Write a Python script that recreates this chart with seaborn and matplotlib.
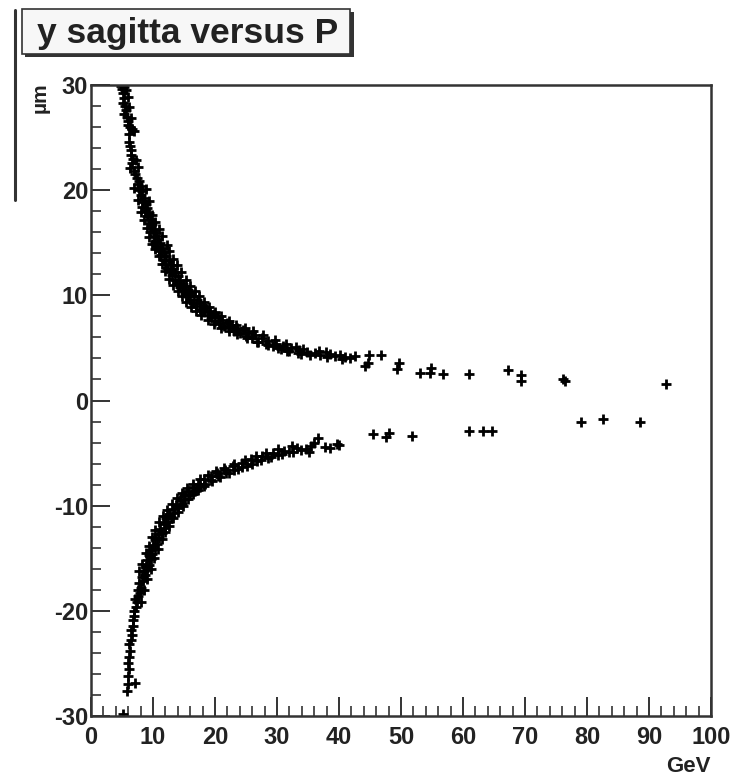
import matplotlib
matplotlib.use("Agg")
import matplotlib.pyplot as plt
from matplotlib.patches import Rectangle
from matplotlib.ticker import MultipleLocator
import seaborn as sns
import pandas as pd

# Positive-charge branch: momentum P [GeV] and y sagitta [um]
pos_p = [4.8, 5.0, 5.3, 5.6, 5.1, 5.4, 5.2, 5.5, 5.7, 5.4, 5.8, 6.0, 5.9, 6.3, 6.6, 7.0, 6.2,
         6.1, 6.3, 6.5, 6.4, 6.8, 6.6, 6.3, 6.9, 7.1, 7.4, 7.8, 7.5, 8.0, 7.7, 8.3, 8.1, 8.6,
         8.4, 8.9, 8.2, 9.1, 8.7, 9.3, 9.0, 9.6, 9.4, 9.9, 9.7, 10.2, 9.5, 10.5, 10.1, 10.8,
         10.4, 11.1, 10.7, 11.4, 11.0, 11.8, 11.3, 12.1, 11.7, 12.5, 12.0, 12.9, 12.3, 13.2,
         12.7, 13.6, 13.0, 14.0, 13.5, 14.4, 13.9, 14.8, 14.3, 15.2, 14.8, 15.7, 15.1, 16.1,
         15.6, 16.6, 16.0, 17.1, 16.5, 17.6, 17.0, 18.1, 17.6, 18.6, 18.2, 19.2, 18.8, 19.8,
         19.3, 20.5, 20.0, 21.2, 20.7, 22.0, 21.5, 22.8, 22.3, 23.6, 23.0, 24.5, 24.0, 25.4,
         25.0, 26.4, 26.0, 27.5, 27.0, 28.6, 28.2, 29.8, 29.4, 31.0, 30.6, 32.2, 32.0, 33.5,
         33.4, 34.8, 35.3, 36.2, 37.0, 38.5, 39.3, 40.1, 41.0, 41.8, 42.5, 44.2, 44.6, 44.8,
         46.8, 49.4, 49.7, 53.0, 54.6, 54.8, 56.8, 61.0, 67.3, 69.3, 69.3, 76.1, 76.5, 92.7,
         5.9, 6.2, 6.5, 7.3, 7.6, 7.0, 8.8, 7.6, 9.4, 8.0, 9.8, 8.5, 10.4, 9.0, 10.9, 9.4,
         11.5, 9.9, 12.2, 10.3, 12.6, 10.9, 13.2, 11.5, 13.8, 11.9, 14.5, 12.6, 15.3, 13.3,
         15.9, 14.0, 16.7, 14.6, 17.4, 15.3, 18.2, 16.1, 19.0, 16.9, 20.0, 17.8, 21.0, 18.8,
         22.2, 19.9, 23.4, 21.0, 24.8, 22.2, 26.2, 23.6, 27.8, 25.2, 29.6, 26.8, 31.4, 28.5,
         33.0, 30.2, 34.2, 31.6, 36.8, 33.8, 38.1, 37.9, 40.5]
pos_y = [29.9, 29.6, 29.8, 29.5, 29.2, 28.8, 28.3, 28.0, 27.6, 27.2, 27.0, 26.6, 26.2, 26.0,
         25.8, 25.6, 25.3, 24.6, 24.2, 23.8, 23.3, 23.0, 22.6, 22.1, 21.8, 21.5, 21.2, 20.9,
         20.6, 20.4, 20.0, 19.9, 19.5, 19.3, 18.9, 18.7, 18.4, 18.3, 18.0, 17.8, 17.5, 17.3,
         16.9, 16.8, 16.4, 16.2, 16.0, 15.9, 15.6, 15.4, 15.1, 15.0, 14.7, 14.5, 14.2, 14.1,
         13.8, 13.7, 13.4, 13.3, 13.0, 12.9, 12.6, 12.5, 12.2, 12.2, 11.9, 11.8, 11.5, 11.4,
         11.1, 11.1, 10.8, 10.8, 10.5, 10.5, 10.2, 10.2, 9.9, 9.9, 9.6, 9.6, 9.3, 9.3, 9.0,
         9.0, 8.7, 8.8, 8.4, 8.5, 8.1, 8.2, 7.9, 7.9, 7.6, 7.7, 7.4, 7.4, 7.1, 7.2, 6.9, 6.9,
         6.6, 6.7, 6.4, 6.4, 6.1, 6.2, 5.9, 5.9, 5.6, 5.7, 5.4, 5.4, 5.2, 5.2, 4.9, 5.0, 4.7,
         4.8, 4.5, 4.6, 4.3, 4.5, 4.3, 4.4, 4.2, 4.3, 4.1, 4.0, 4.2, 3.3, 3.6, 4.3, 4.3, 3.0,
         3.6, 2.6, 2.6, 3.1, 2.5, 2.5, 2.9, 2.4, 1.9, 2.0, 1.9, 1.6,
         28.9, 27.9, 26.9, 22.9, 22.2, 20.2, 20.1, 19.1, 19.0, 17.9, 17.6, 17.2, 17.0, 16.4,
         16.3, 15.5, 15.6, 14.9, 14.8, 14.4, 14.2, 13.7, 13.5, 13.0, 12.9, 12.3, 12.2, 11.6,
         11.5, 11.0, 10.9, 10.4, 10.4, 9.9, 9.9, 9.4, 9.4, 8.9, 8.9, 8.5, 8.4, 8.1, 8.0, 7.7,
         7.6, 7.3, 7.2, 6.9, 6.9, 6.6, 6.6, 6.3, 6.2, 5.9, 5.8, 5.6, 5.4, 5.3, 5.1, 5.0, 4.9,
         4.7, 4.7, 4.4, 4.1, 4.6, 3.9]

# Negative-charge branch
neg_p = [5.2, 5.8, 7.1, 5.9, 6.0, 6.1, 6.0, 6.2, 6.3, 6.1, 6.4, 6.6, 6.5, 6.8, 6.7, 7.0, 6.9,
         7.2, 7.4, 7.1, 7.6, 7.9, 7.5, 8.1, 7.8, 8.4, 8.2, 8.7, 8.5, 9.0, 8.8, 9.3, 9.1, 9.6,
         9.4, 9.9, 9.7, 10.3, 10.0, 10.6, 10.4, 11.0, 10.8, 11.4, 11.2, 11.9, 11.7, 12.4, 12.1,
         12.9, 12.6, 13.4, 13.2, 14.0, 13.7, 14.6, 14.3, 15.2, 15.0, 15.9, 15.7, 16.7, 16.4,
         17.5, 17.3, 18.4, 18.3, 19.4, 19.3, 20.5, 20.4, 21.8, 21.6, 23.0, 22.9, 24.4, 24.3,
         25.9, 25.8, 27.4, 27.5, 29.0, 29.3, 30.8, 31.2, 32.6, 33.3, 34.6, 35.5, 36.0, 36.6,
         37.8, 38.5, 39.7, 40.0, 45.5, 47.6, 48.0, 51.7, 61.0, 63.2, 64.7, 79.0, 82.6, 88.5,
         8.0, 8.6, 9.0, 7.7, 9.6, 8.2, 10.2, 8.8, 10.8, 9.3, 11.4, 9.9, 12.0, 10.4, 12.6, 11.0,
         13.3, 11.6, 14.0, 12.3, 14.8, 13.0, 15.6, 13.8, 16.4, 14.6, 17.3, 15.5, 18.3, 16.5,
         19.5, 17.6, 20.8, 18.8, 22.2, 20.1, 23.7, 21.5, 25.2, 23.0, 26.8, 24.8, 28.5, 26.6,
         30.2, 28.3, 32.0, 30.1, 33.8, 32.4, 35.1]
neg_y = [-29.8, -27.6, -26.9, -27.0, -26.2, -25.5, -25.0, -24.4, -23.8, -23.2, -22.8, -22.3,
         -21.8, -21.4, -20.9, -20.5, -20.0, -19.6, -19.2, -18.9, -18.6, -18.3, -18.0, -17.8,
         -17.4, -17.2, -16.8, -16.6, -16.2, -16.1, -15.7, -15.6, -15.2, -15.1, -14.7, -14.6,
         -14.2, -14.1, -13.7, -13.6, -13.2, -13.1, -12.7, -12.6, -12.2, -12.1, -11.7, -11.6,
         -11.2, -11.1, -10.8, -10.7, -10.3, -10.2, -9.9, -9.8, -9.5, -9.4, -9.0, -9.0, -8.6,
         -8.6, -8.2, -8.2, -7.9, -7.9, -7.5, -7.6, -7.2, -7.2, -6.9, -6.9, -6.6, -6.6, -6.2,
         -6.3, -5.9, -6.0, -5.6, -5.7, -5.3, -5.4, -5.0, -5.1, -4.8, -4.9, -4.5, -4.6, -4.3,
         -4.0, -3.6, -4.4, -4.5, -4.1, -4.2, -3.2, -3.5, -3.1, -3.4, -2.9, -2.9, -2.9, -2.0,
         -1.8, -2.0,
         -19.2, -18.0, -17.0, -16.2, -16.0, -15.5, -15.0, -14.5, -14.1, -13.8, -13.2, -13.0,
         -12.5, -12.3, -11.9, -11.6, -11.2, -11.0, -10.6, -10.4, -10.0, -9.8, -9.4, -9.3,
         -8.9, -8.8, -8.5, -8.3, -8.1, -7.9, -7.7, -7.5, -7.3, -7.1, -6.9, -6.7, -6.5, -6.4,
         -6.2, -6.0, -5.8, -5.7, -5.5, -5.3, -5.2, -5.0, -4.9, -4.6, -4.7, -4.3, -4.9]

x_ticks = [0, 10, 20, 30, 40, 50, 60, 70, 80, 90, 100]
y_ticks = [-30, -20, -10, 0, 10, 20, 30]

df = pd.DataFrame({
    "P": pos_p + neg_p,
    "sagitta": pos_y + neg_y,
})

sns.set_style("white")
plt.rcParams["font.family"] = ["Liberation Sans", "DejaVu Sans"]
plt.rcParams["font.weight"] = "bold"

W, H = 738, 777
fig = plt.figure(figsize=(W / 100, H / 100), dpi=100)
fig.patch.set_facecolor("white")


def fx(px):
    return px / W


def fy(py):
    return 1 - py / H


ax = fig.add_axes([fx(91), fy(716), fx(711) - fx(91), fy(85) - fy(716)])

sns.scatterplot(data=df, x="P", y="sagitta", ax=ax, marker="+", s=50,
                color="black", linewidth=2.0, legend=False)

ax.set_xlim(0, 100)
ax.set_ylim(-30, 30)
ax.set_xticks(x_ticks)
ax.set_yticks(y_ticks)
ax.set_xticklabels([str(v) for v in x_ticks])
ax.set_yticklabels([str(v) for v in y_ticks])
ax.xaxis.set_minor_locator(MultipleLocator(2))
ax.yaxis.set_minor_locator(MultipleLocator(2))
ax.tick_params(which="major", direction="in", length=14, width=1.4, color="#333333",
               labelsize=17, bottom=True, left=True, top=False, right=False)
ax.tick_params(axis="x", which="major", pad=7)
ax.tick_params(axis="y", which="major", pad=2)
ax.tick_params(which="minor", direction="in", length=7, width=1.2, color="#333333",
               bottom=True, left=True, top=False, right=False)
for lab in ax.get_xticklabels() + ax.get_yticklabels():
    lab.set_fontweight("bold")
    lab.set_color("#222222")
for sp in ax.spines.values():
    sp.set_color("#333333")
    sp.set_linewidth(1.8)
ax.set_xlabel("")
ax.set_ylabel("")

# Axis unit labels
fig.text(fx(711), fy(766), "GeV", ha="right", va="center", fontsize=16, fontweight="bold",
         color="#222222")
fig.text(fx(40), fy(98), "µm", ha="center", va="center", rotation=90, fontsize=15,
         fontweight="bold", color="#222222")

# Title box with drop shadow
shadow = Rectangle((fx(25), fy(57)), fx(354) - fx(25), fy(12) - fy(57), transform=fig.transFigure,
                   facecolor="#333333", edgecolor="none", zorder=1)
box = Rectangle((fx(22), fy(54)), fx(350) - fx(22), fy(9) - fy(54), transform=fig.transFigure,
                facecolor="#f7f7f7", edgecolor="#333333", linewidth=1.2, zorder=2)
fig.patches.extend([shadow, box])
fig.text(fx(188), fy(34), "y sagitta versus P", ha="center", va="center", fontsize=25.5,
         fontweight="bold", color="#222222", zorder=3)
fig.add_artist(plt.Line2D([fx(15), fx(15)], [fy(10), fy(200)], transform=fig.transFigure,
                          color="#333333", linewidth=2.2))

fig.savefig("out.png", dpi=100, facecolor="white")
